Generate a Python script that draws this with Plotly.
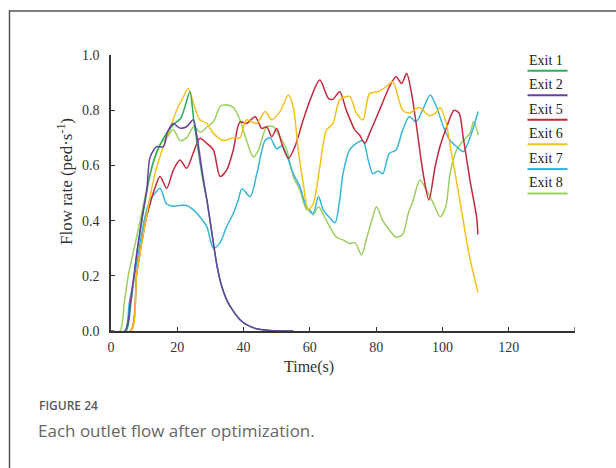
import plotly.graph_objects as go

# ---------------- data ----------------
series_names = ["Exit 1", "Exit 2", "Exit 5", "Exit 6", "Exit 7", "Exit 8"]
series_colors = ["#2bb05a", "#6a3fa5", "#c02a3c", "#f3c21a", "#38b6da", "#9ccf5f"]

exit1_t = [0, 4.5, 6, 8, 10, 11.5, 13, 15, 17, 19, 21, 22.5, 23.8, 25, 26, 27, 28, 29, 30, 31, 32, 33, 34, 35, 37, 39, 41, 44, 48, 55]
exit1_v = [0, 0, 0.1, 0.3, 0.45, 0.55, 0.62, 0.68, 0.72, 0.75, 0.77, 0.82, 0.867, 0.76, 0.68, 0.6, 0.53, 0.47, 0.39, 0.31, 0.235, 0.18, 0.14, 0.11, 0.07, 0.04, 0.022, 0.008, 0.002, 0]

exit2_t = [0, 4.2, 6, 8, 9.5, 10.8, 11.8, 13.8, 15.8, 17, 18.8, 20.8, 22.8, 24.8, 26, 27, 28, 29, 30, 31, 32, 33, 34, 35, 37, 39, 41, 44, 48, 55]
exit2_v = [0, 0, 0.12, 0.3, 0.42, 0.51, 0.63, 0.668, 0.668, 0.72, 0.752, 0.735, 0.74, 0.765, 0.70, 0.62, 0.54, 0.47, 0.39, 0.31, 0.235, 0.18, 0.14, 0.11, 0.07, 0.04, 0.022, 0.008, 0.002, 0]

exit5_t = [0, 5.9, 7.7, 9, 10.5, 12, 13.3, 14.8, 16.8, 18.8, 20.8, 22.8, 24.8, 26.8, 28.9, 30.9, 32.9, 34.9, 36.9, 38.9, 40.9, 43.5, 45.5, 47, 48.5, 50, 51.5, 53.5, 55.5, 58, 60.5, 63, 65.6, 67, 69, 71, 73.6, 75, 76.6, 78, 81, 84, 86, 87.7, 89.2, 90.7, 92.2, 94.2, 95.9, 97.8, 99.3, 101.3, 103.5, 105, 106.3, 108.3, 110.3, 110.7]
exit5_v = [0, 0, 0.2, 0.3, 0.4, 0.47, 0.52, 0.56, 0.517, 0.583, 0.62, 0.59, 0.644, 0.698, 0.68, 0.656, 0.56, 0.583, 0.656, 0.758, 0.752, 0.776, 0.734, 0.74, 0.704, 0.734, 0.68, 0.625, 0.668, 0.765, 0.85, 0.909, 0.843, 0.84, 0.867, 0.80, 0.728, 0.71, 0.68, 0.716, 0.80, 0.885, 0.921, 0.897, 0.933, 0.86, 0.74, 0.57, 0.475, 0.595, 0.67, 0.74, 0.80, 0.79, 0.70, 0.547, 0.414, 0.35]

exit6_t = [0, 6, 7.7, 9, 10.5, 12, 13.5, 15, 16.8, 18.3, 19.8, 21.5, 23.3, 25, 26.8, 28.9, 30.9, 33.9, 36.9, 38.9, 40.9, 43.9, 46.5, 48.5, 51, 53.5, 55, 56.5, 58, 59.5, 61, 63, 65, 67, 69, 72, 74, 76, 78, 80.5, 83, 85, 88, 90, 93, 96, 98, 99.3, 101, 102.5, 104, 106, 108, 110.7]
exit6_v = [0, 0, 0.2, 0.3, 0.4, 0.5, 0.58, 0.64, 0.70, 0.75, 0.80, 0.84, 0.879, 0.82, 0.765, 0.752, 0.716, 0.69, 0.70, 0.70, 0.765, 0.752, 0.795, 0.765, 0.795, 0.855, 0.81, 0.656, 0.535, 0.44, 0.46, 0.595, 0.728, 0.752, 0.837, 0.85, 0.79, 0.765, 0.86, 0.867, 0.885, 0.903, 0.80, 0.79, 0.81, 0.78, 0.79, 0.81, 0.76, 0.66, 0.56, 0.42, 0.28, 0.14]

exit7_t = [0, 4.2, 5.5, 7.1, 8.5, 10, 11.8, 13.3, 14.8, 16.8, 18.8, 20.8, 22.8, 24.8, 26.8, 28.9, 30.9, 32.9, 34.9, 36.9, 38.4, 39.5, 42, 44, 46.5, 48, 50, 51.5, 53, 55, 57, 59, 61, 62.6, 64, 66, 67.6, 69, 70, 72, 74, 76, 77.6, 79, 80.6, 82, 84, 86, 88, 90, 92, 94, 96.3, 98.3, 100.3, 102.3, 104.3, 106.3, 108.3, 110.8]
exit7_v = [0, 0, 0.1, 0.2, 0.3, 0.4, 0.475, 0.5, 0.517, 0.46, 0.452, 0.455, 0.455, 0.44, 0.414, 0.378, 0.30, 0.32, 0.378, 0.426, 0.475, 0.515, 0.487, 0.57, 0.69, 0.70, 0.66, 0.67, 0.638, 0.57, 0.523, 0.45, 0.426, 0.487, 0.44, 0.41, 0.392, 0.475, 0.57, 0.656, 0.68, 0.69, 0.62, 0.57, 0.58, 0.57, 0.644, 0.656, 0.728, 0.776, 0.758, 0.80, 0.855, 0.81, 0.74, 0.69, 0.668, 0.65, 0.70, 0.795]

exit8_t = [0, 2.7, 4, 5.2, 7, 8.8, 10.5, 12, 13.5, 15, 16.8, 18.8, 20.8, 22.8, 25, 27, 29, 31, 33, 34.4, 36.9, 38.9, 40.9, 43, 44.5, 47, 49, 51, 53, 55, 57, 59, 60, 61, 62.6, 65, 68, 70, 72, 73.6, 75.6, 77, 79, 80.1, 82, 84, 86, 88, 89.7, 91.2, 93.2, 95.2, 97.3, 99.3, 101, 102.3, 104.3, 106.3, 108.3, 109.4, 110.8]
exit8_v = [0, 0, 0.1, 0.2, 0.3, 0.4, 0.5, 0.58, 0.64, 0.68, 0.70, 0.73, 0.69, 0.70, 0.74, 0.72, 0.74, 0.76, 0.815, 0.82, 0.81, 0.765, 0.69, 0.63, 0.656, 0.74, 0.74, 0.704, 0.656, 0.56, 0.51, 0.44, 0.44, 0.42, 0.45, 0.40, 0.34, 0.33, 0.317, 0.32, 0.275, 0.33, 0.414, 0.45, 0.40, 0.366, 0.34, 0.35, 0.426, 0.475, 0.547, 0.51, 0.462, 0.414, 0.45, 0.57, 0.656, 0.69, 0.717, 0.758, 0.71]

series_t = [exit1_t, exit2_t, exit5_t, exit6_t, exit7_t, exit8_t]
series_v = [exit1_v, exit2_v, exit5_v, exit6_v, exit7_v, exit8_v]

x_tickvals = [0, 20, 40, 60, 80, 100, 120]
x_ticktext = ["0", "20", "40", "60", "80", "100", "120"]
x_end_tick = [140]
y_tickvals = [0, 0.2, 0.4, 0.6, 0.8, 1.0]
y_ticktext = ["0.0", "0.2", "0.4", "0.6", "0.8", "1.0"]

x_title = "Time(s)"
y_title = "Flow rate (ped·s<sup>-1</sup>)"
fig_label = "FIGURE 24"
fig_caption = "Each outlet flow after optimization."

# ---------------- figure ----------------
W, H = 616, 468
ML, MR, MT, MB = 111, 41, 55, 137
PW, PH = W - ML - MR, H - MT - MB

def px_x(p):
    return (p - ML) / PW

def px_y(p):
    return (H - MB - p) / PH

serif = "Liberation Serif, Times New Roman, serif"

fig = go.Figure()
draw_order = [5, 4, 2, 3, 0, 1]
for i in draw_order:
    fig.add_trace(go.Scatter(
        x=series_t[i], y=series_v[i], mode="lines", name=series_names[i],
        line=dict(color=series_colors[i], width=1.5, shape="spline", smoothing=0.8),
        showlegend=False,
    ))

fig.update_layout(
    width=W, height=H,
    margin=dict(l=ML, r=MR, t=MT, b=MB, pad=0),
    paper_bgcolor="white", plot_bgcolor="white",
    font=dict(family=serif, color="#333"),
)
fig.update_xaxes(
    range=[0, 140], showgrid=False, zeroline=False,
    showline=True, linecolor="#333", linewidth=1.5,
    ticks="inside", ticklen=4, tickwidth=1.2, tickcolor="#333",
    tickvals=x_tickvals, ticktext=x_ticktext,
    tickfont=dict(family=serif, size=14, color="#333"),
    ticklabelstandoff=2,
)
fig.update_yaxes(
    range=[0, 1.0], showgrid=False, zeroline=False,
    showline=True, linecolor="#333", linewidth=1.5,
    ticks="inside", ticklen=4, tickwidth=1.2, tickcolor="#333",
    tickvals=y_tickvals, ticktext=y_ticktext,
    tickfont=dict(family=serif, size=14, color="#333"),
    ticklabelstandoff=7,
)

ann = []
shapes = []
# end tick on x axis at 140 (unlabelled)
for xv in x_end_tick:
    shapes.append(dict(type="line", xref="x", yref="paper", x0=xv, x1=xv,
                       y0=0, y1=4 / PH, line=dict(color="#333", width=1.2)))
# axis titles
ann.append(dict(text=x_title, x=px_x(309), y=px_y(367), xref="paper", yref="paper",
                showarrow=False, font=dict(family=serif, size=16, color="#333"),
                xanchor="center", yanchor="middle"))
ann.append(dict(text=y_title, x=px_x(65), y=px_y(182), xref="paper", yref="paper",
                showarrow=False, textangle=-90, font=dict(family=serif, size=17, color="#333"),
                xanchor="center", yanchor="middle"))
# legend
for k, (name, col) in enumerate(zip(series_names, series_colors)):
    ly = 70.7 + 24.55 * k
    ann.append(dict(text=name, x=px_x(526.5), y=px_y(ly - 10.5), xref="paper", yref="paper",
                    showarrow=False, font=dict(family=serif, size=14, color="#222"),
                    xanchor="left", yanchor="middle"))
    shapes.append(dict(type="line", xref="paper", yref="paper",
                       x0=px_x(527.5), x1=px_x(567.5), y0=px_y(ly), y1=px_y(ly),
                       line=dict(color=col, width=2)))
# caption
sans = "Open Sans, Noto Sans, sans-serif"
ann.append(dict(text=fig_label, x=px_x(37), y=px_y(405), xref="paper", yref="paper",
                showarrow=False, font=dict(family=sans, size=12, color="#5a5a5a", weight=600),
                xanchor="left", yanchor="middle"))
ann.append(dict(text=fig_caption, x=px_x(36), y=px_y(430), xref="paper", yref="paper",
                showarrow=False, font=dict(family=sans, size=17, color="#666"),
                xanchor="left", yanchor="middle"))
# outer frame
shapes.append(dict(type="rect", xref="paper", yref="paper",
                   x0=px_x(9.5), x1=px_x(640), y0=px_y(490), y1=px_y(11),
                   line=dict(color="#555", width=1.5), fillcolor="rgba(0,0,0,0)", layer="below"))

fig.update_layout(annotations=ann, shapes=shapes)
fig.write_html("out.html")
